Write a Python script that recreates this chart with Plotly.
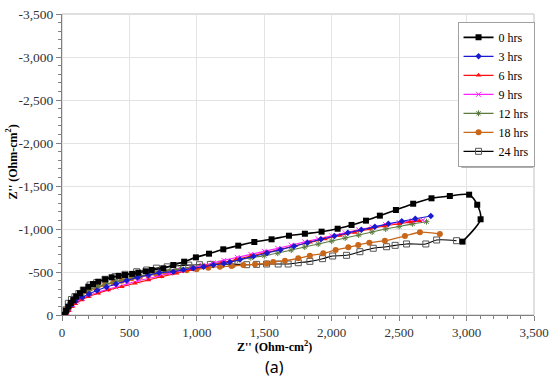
import plotly.graph_objects as go

# ---------------- data ----------------
hrs0_x = [20, 30, 47, 65, 84, 105, 133, 160, 195, 230, 269, 320, 368, 420, 467, 520, 566, 620, 665, 751, 825, 906, 993, 1090, 1196, 1307, 1426, 1554, 1683, 1801, 1925, 2044, 2147, 2254, 2357, 2476, 2604, 2740, 2876, 3019, 3079, 3104, 2970]
hrs0_y = [0, -50, -97, -140, -174, -215, -252, -290, -329, -360, -387, -415, -438, -455, -465, -478, -492, -508, -523, -543, -581, -620, -670, -713, -764, -806, -849, -880, -922, -945, -969, -1003, -1047, -1097, -1155, -1221, -1294, -1357, -1384, -1399, -1282, -1113, -853]

hrs3_x = [20, 40, 65, 100, 150, 200, 260, 330, 400, 480, 560, 640, 720, 825, 900, 973, 1050, 1122, 1200, 1245, 1320, 1420, 1520, 1620, 1720, 1820, 1920, 2020, 2120, 2220, 2320, 2420, 2520, 2620, 2735]
hrs3_y = [0, -50, -110, -160, -205, -245, -285, -325, -360, -400, -435, -465, -490, -503, -525, -543, -562, -581, -598, -615, -645, -682, -720, -760, -800, -840, -880, -918, -955, -990, -1025, -1060, -1090, -1120, -1151]

hrs6_x = [20, 30, 50, 75, 100, 146, 195, 269, 343, 443, 541, 640, 739, 850, 960, 1070, 1180, 1290, 1400, 1510, 1620, 1730, 1840, 1950, 2060, 2170, 2280, 2390, 2500, 2580, 2650]
hrs6_y = [0, -15, -50, -95, -130, -174, -213, -252, -291, -329, -369, -407, -445, -485, -525, -565, -605, -645, -685, -725, -765, -805, -845, -885, -925, -960, -1000, -1035, -1060, -1080, -1095]

hrs9_x = [20, 35, 55, 80, 110, 150, 200, 260, 330, 400, 480, 560, 640, 720, 800, 880, 960, 1040, 1120, 1200, 1300, 1400, 1500, 1600, 1700, 1800, 1900, 2000, 2100, 2200, 2300, 2400, 2500, 2600, 2676]
hrs9_y = [0, -30, -70, -120, -160, -195, -230, -262, -295, -325, -360, -395, -425, -455, -485, -515, -545, -575, -605, -635, -670, -705, -740, -775, -812, -850, -885, -920, -955, -990, -1020, -1050, -1075, -1095, -1105]

hrs12_x = [20, 35, 55, 80, 110, 150, 200, 260, 330, 400, 480, 560, 640, 720, 800, 880, 960, 1040, 1120, 1200, 1300, 1400, 1500, 1600, 1700, 1800, 1900, 2000, 2100, 2200, 2300, 2400, 2500, 2600, 2703]
hrs12_y = [0, -60, -120, -170, -215, -255, -290, -325, -360, -390, -420, -445, -470, -495, -515, -535, -555, -575, -595, -615, -640, -665, -690, -720, -755, -790, -825, -860, -895, -930, -965, -1000, -1030, -1060, -1085]

hrs18_x = [20, 35, 72, 133, 195, 257, 319, 380, 443, 517, 578, 640, 700, 770, 838, 924, 998, 1085, 1171, 1258, 1344, 1431, 1517, 1566, 1653, 1752, 1838, 1937, 2029, 2123, 2197, 2279, 2394, 2543, 2654, 2802]
hrs18_y = [0, -60, -136, -213, -271, -310, -349, -376, -399, -427, -445, -460, -475, -492, -505, -520, -531, -550, -562, -570, -581, -589, -600, -615, -631, -659, -690, -717, -756, -787, -814, -841, -864, -919, -962, -942]

hrs24_x = [20, 30, 47, 70, 96, 125, 158, 208, 257, 319, 393, 467, 554, 628, 700, 780, 860, 940, 1020, 1100, 1180, 1260, 1369, 1443, 1517, 1603, 1677, 1752, 1838, 1932, 2007, 2110, 2209, 2308, 2407, 2470, 2555, 2698, 2778, 2926]
hrs24_y = [0, -60, -136, -180, -213, -250, -291, -349, -376, -415, -445, -473, -503, -523, -545, -560, -572, -580, -585, -588, -590, -591, -585, -589, -593, -593, -593, -608, -624, -655, -686, -694, -736, -776, -794, -810, -826, -826, -872, -864]

series_names = ["0 hrs", "3 hrs", "6 hrs", "9 hrs", "12 hrs", "18 hrs", "24 hrs"]

tick_vals = [0, 500, 1000, 1500, 2000, 2500, 3000, 3500]
x_tick_text = ["0", "500", "1,000", "1,500", "2,000", "2,500", "3,000", "3,500"]
y_tick_vals = [0, -500, -1000, -1500, -2000, -2500, -3000, -3500]
y_tick_text = ["0", "-500", "-1,000", "-1,500", "-2,000", "-2,500", "-3,000", "-3,500"]

axis_title = "<b>Z'' (Ohm-cm<sup>2</sup>)</b>"
panel_label = "(a)"

# ---------------- styles ----------------
styles = [
    dict(color="#000000", symbol="square", size=6, lw=1.6, mline=None),
    dict(color="#1a1ad0", symbol="diamond", size=5, lw=1.1, mline=None),
    dict(color="#ff1010", symbol="triangle-up", size=5, lw=1.1, mline=None),
    dict(color="#ff22ff", symbol="x-thin-open", size=5, lw=1.1, mline=1),
    dict(color="#5b7a3e", symbol="asterisk-open", size=5, lw=1.1, mline=1),
    dict(color="#c8661a", symbol="circle", size=6, lw=1.3, mline=None),
    dict(color="#000000", symbol="square-open", size=6, lw=1.1, mline=1),
]
data = [(hrs0_x, hrs0_y), (hrs3_x, hrs3_y), (hrs6_x, hrs6_y), (hrs9_x, hrs9_y),
        (hrs12_x, hrs12_y), (hrs18_x, hrs18_y), (hrs24_x, hrs24_y)]

fig = go.Figure()
order = [6, 5, 4, 3, 2, 1, 0]
for i in order:
    xs, ys = data[i]
    s = styles[i]
    mcolor = s["color"]
    marker = dict(symbol=s["symbol"], size=s["size"], color=mcolor)
    if s["symbol"] == "square-open":
        marker = dict(symbol="square-open", size=6, color="#555555", line=dict(width=1, color="#555555"))
    elif s["mline"]:
        marker["line"] = dict(width=1, color=mcolor)
    fig.add_trace(go.Scatter(
        x=xs, y=ys, name=series_names[i], mode="lines+markers",
        line=dict(color=s["color"], width=s["lw"], shape="spline", smoothing=0.8),
        marker=marker, legendrank=i + 1,
    ))

serif = "Liberation Serif, Times New Roman, serif"
x_font = dict(family=serif, size=13, color="#333333")
y_font = dict(family=serif, size=13.5, color="#333333")

# full 550x382 figure; body margin removed via post_script so plot area is 62..534 x 14..315
fig.update_layout(
    width=550, height=382,
    margin=dict(l=62, r=16, t=14, b=67, autoexpand=False),
    paper_bgcolor="white", plot_bgcolor="white",
    showlegend=True,
    legend=dict(
        x=0.838, y=0.974, xanchor="left", yanchor="top",
        bgcolor="white", bordercolor="#a0a0a0", borderwidth=1,
        font=dict(family=serif, size=12, color="#000000"),
        tracegroupgap=0, itemwidth=30,
    ),
    font=x_font,
)

common = dict(
    showgrid=True, gridcolor="#e3e3e3", gridwidth=1, zeroline=False,
    showline=True, linecolor="#808080", linewidth=1, mirror=False,
    ticks="outside", ticklen=5, tickcolor="#808080",
    minor=dict(ticks="outside", dtick=100, ticklen=3, tickcolor="#808080", showgrid=False),
    automargin=False, ticklabeloverflow="allow",
)
fig.update_xaxes(range=[0, 3500], tickvals=tick_vals, ticktext=x_tick_text, tickfont=x_font, **common)
fig.update_yaxes(range=[0, -3500], tickvals=y_tick_vals, ticktext=y_tick_text, tickfont=y_font, **common)

# plot-area frame (light gray)
fig.add_shape(type="rect", xref="paper", yref="paper", x0=0, y0=0, x1=1, y1=1,
              line=dict(color="#c0c0c0", width=1), layer="below")
# legend drop shadow
fig.add_shape(type="rect", xref="paper", yref="paper", x0=0.846, x1=0.998, y0=0.488, y1=0.962,
              line=dict(width=0), fillcolor="rgba(110,110,110,0.55)", layer="above")

title_font = dict(family=serif, size=12, color="#000000")
fig.add_annotation(text=axis_title, xref="paper", yref="paper", x=0.45, y=-0.106,
                   xanchor="center", yanchor="middle", showarrow=False, font=title_font)
fig.add_annotation(text=axis_title, xref="paper", yref="paper", x=-0.106, y=0.51,
                   xanchor="center", yanchor="middle", showarrow=False, textangle=-90,
                   font=title_font)
fig.add_annotation(text=panel_label, xref="paper", yref="paper", x=0.451, y=-0.173,
                   xanchor="center", yanchor="middle", showarrow=False,
                   font=dict(family="Noto Sans, DejaVu Sans, sans-serif", size=16, color="#000000"))

fig.write_html("out.html", config={"displayModeBar": False},
               post_script="document.body.style.margin='0';document.body.style.overflow='hidden';")
